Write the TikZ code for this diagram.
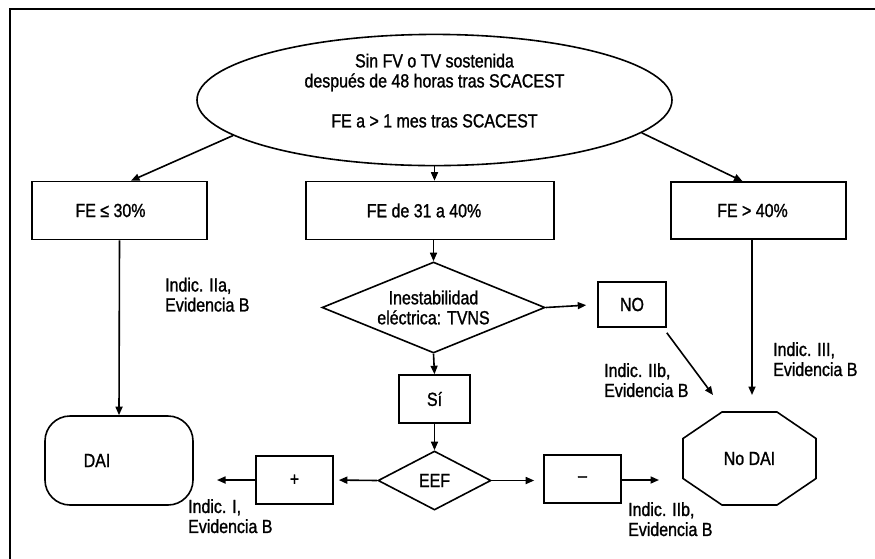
\documentclass[tikz,border=0pt]{standalone}
\usepackage{fontspec}
\setmainfont{Liberation Sans}[FakeStretch=0.84, FakeBold=1.2]
\usetikzlibrary{shapes.geometric,arrows.meta,calc}
\begin{document}
\begin{tikzpicture}[x=1pt,y=-1pt,
  every node/.style={font=\fontsize{19}{20}\selectfont, inner sep=0pt},
  ln/.style={line width=1.6pt},
  arr/.style={line width=1.6pt, -{Triangle[length=8.5pt,width=7pt]}},
  box/.style={draw, line width=1.6pt, rectangle},
  dia/.style={draw, line width=1.6pt, diamond, align=center},
  lbl/.style={anchor=north west, align=left}]
\useasboundingbox (0,0) rectangle (875,558);
\draw[line width=2.6pt] (10,560) -- (10,9) -- (877,9);

% top ellipse
\node[draw, ellipse, line width=1.6pt, minimum width=475pt, minimum height=122pt,
      align=center, text depth=19pt] (ell) at (434.5,100)
  {Sin FV o TV sostenida\\después de 48 horas tras SCACEST\\[20pt]FE a > 1 mes tras SCACEST};

% three FE boxes
\node[box, minimum width=175pt, minimum height=58pt] (fe1) at (119.5,210.5) {FE ≤ 30\%\hspace*{18pt}};
\node[box, minimum width=248pt, minimum height=58pt] (fe2) at (430,210.5) {FE de 31 a 40\%\hspace*{12pt}};
\node[box, minimum width=175pt, minimum height=57pt] (fe3) at (758.5,210.5) {FE > 40\%\hspace*{12pt}};

% middle chain
\node[dia, shape aspect=2.45, minimum width=223pt, minimum height=91pt] (d1) at (433.5,307.5) {Inestabilidad\\eléctrica: TVNS};
\node[box, minimum width=68pt, minimum height=45pt] (no) at (632,304.5) {NO};
\node[box, minimum width=71pt, minimum height=48pt] (si) at (434.5,399) {Sí};
\node[dia, shape aspect=1.9, minimum width=113pt, minimum height=59pt] (eef) at (434.5,480.5) {EEF};
\node[box, minimum width=77pt, minimum height=48pt] (plus) at (294.5,480) {+};
\node[box, minimum width=77pt, minimum height=48pt] (minus) at (582.5,479) {–};

% end results
\node[draw, line width=1.6pt, rounded corners=25pt, minimum width=148pt, minimum height=89pt] (dai) at (119,460.5) {DAI\hspace*{44pt}};
\node[minimum width=133pt, minimum height=93pt] (nodai) at (749.5,458.5) {No DAI};
\draw[ln, line join=miter, shift={(nodai.center)}]
  (-27.5,-46.5) -- (27.5,-46.5) -- (66.5,-20) -- (66.5,20) -- (27.5,46.5)
  -- (-27.5,46.5) -- (-66.5,20) -- (-66.5,-20) -- cycle;

% free ends
\coordinate (noend) at (713,395);
\coordinate (fe3end) at (752,395);
\coordinate (plusend) at (217,480);
\coordinate (minusend) at (659,480);

% connectors
\draw[arr] (ell.190) -- ($(fe1.north)+(11.5,0)$);
\draw[arr] (ell.south) -- (ell.south |- fe2.north);
\draw[arr] (ell.351) -- ($(fe3.north)+(-16,0)$);
\draw[arr] (fe1.south) -- (dai.north);
\draw[arr] (d1.north |- fe2.south) -- (d1.north);
\draw[arr, shorten >=11pt] (d1.east) -- (no.west);
\draw[arr] ($(no.south east)+(0,5)$) -- (noend);
\draw[arr] (fe3end |- fe3.south) -- (fe3end);
\draw[arr] (d1.south) -- (si.north);
\draw[arr] (si.south) -- (eef.north);
\draw[arr, shorten >=5pt] (eef.west) -- (plus.east);
\draw[arr] (plus.west) -- (plusend);
\draw[arr, shorten >=9pt] (eef.east) -- (minus.west |- eef.east);
\draw[arr] (minus.east |- minusend) -- (minusend);

% labels
\node[lbl] (l1) at (165,277.5) {Indic. IIa,\\Evidencia B};
\node[lbl] (l2) at (604,363) {Indic. IIb,\\Evidencia B};
\node[lbl] (l3) at (773,342) {Indic. III,\\Evidencia B};
\node[lbl] (l4) at (188,499) {Indic. I,\\Evidencia B};
\node[lbl] (l5) at (628,502) {Indic. IIb,\\Evidencia B};
\end{tikzpicture}
\end{document}
